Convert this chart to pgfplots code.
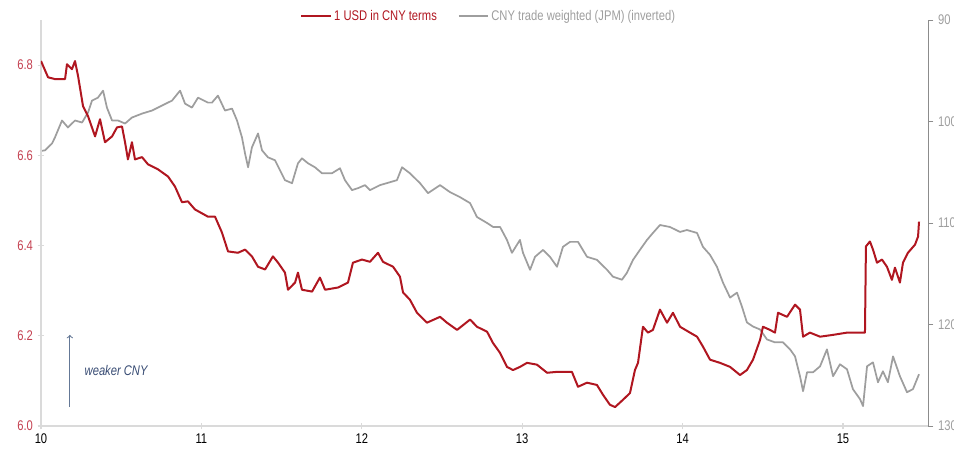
\documentclass[border=0pt]{standalone}
\usepackage{fontspec}
\setmainfont{Liberation Sans}[FakeStretch=0.8]
\usepackage{pgfplots}
\pgfplotsset{compat=1.18}

\definecolor{usdred}{RGB}{176,22,32}
\definecolor{tickred}{RGB}{196,64,80}
\definecolor{twgray}{RGB}{158,158,158}
\definecolor{axgray}{RGB}{218,218,218}
\definecolor{raxis}{RGB}{140,140,140}
\definecolor{arrowblue}{RGB}{100,120,150}
\definecolor{textblue}{RGB}{55,75,115}

\begin{document}
\begin{tikzpicture}
\pgfplotsset{
  every axis/.append style={
    scale only axis,
    width=665.25pt, height=304.5pt,
    xmin=10, xmax=15.53,
    font=\fontsize{10.5}{12}\selectfont,
    /pgf/number format/assume math mode=true,
  },
}

% trade weighted index, right axis (inverted)
\begin{axis}[
  axis x line=none,
  axis y line*=right,
  y dir=reverse,
  ymin=90, ymax=130,
  ytick={90,100,110,120,130},
  axis line style={raxis, line width=0.6pt, -},
  tick style={raxis, line width=0.6pt},
  tick align=outside, major tick length=4pt,
  yticklabel style={twgray},
]
\addplot[twgray, line width=1.3pt, line join=round] coordinates {
  (10.000,102.9) (10.025,102.84) (10.069,102.16) (10.087,101.57) (10.131,99.90)
  (10.168,100.59) (10.212,99.90) (10.256,100.10) (10.293,99.12) (10.318,97.94)
  (10.355,97.65) (10.387,96.96) (10.411,98.63) (10.443,99.90) (10.480,99.90)
  (10.524,100.20) (10.567,99.61) (10.630,99.22) (10.692,98.92) (10.754,98.43)
  (10.817,97.94) (10.867,96.96) (10.898,98.24) (10.941,98.63) (10.979,97.65)
  (11.041,98.14) (11.066,98.14) (11.103,97.45) (11.147,98.92) (11.191,98.73)
  (11.222,99.90) (11.253,101.57) (11.272,103.14) (11.291,104.51) (11.315,102.55)
  (11.353,101.18) (11.378,102.84) (11.415,103.53) (11.459,103.82) (11.490,104.80)
  (11.521,105.78) (11.565,106.08) (11.602,104.12) (11.627,103.63) (11.665,104.12)
  (11.708,104.51) (11.752,105.10) (11.814,105.10) (11.864,104.61) (11.895,105.78)
  (11.939,106.76) (11.976,106.57) (12.020,106.27) (12.051,106.76) (12.113,106.27)
  (12.176,105.98) (12.219,105.78) (12.251,104.51) (12.300,105.10) (12.363,106.08)
  (12.413,107.06) (12.488,106.27) (12.550,106.96) (12.612,107.45) (12.675,108.04)
  (12.718,109.41) (12.781,110.00) (12.818,110.39) (12.862,110.39) (12.905,111.67)
  (12.936,112.94) (12.986,111.67) (13.005,112.94) (13.049,114.61) (13.080,113.33)
  (13.130,112.65) (13.173,113.33) (13.217,114.31) (13.254,112.35) (13.298,111.86)
  (13.348,111.86) (13.404,113.33) (13.466,113.63) (13.529,114.61) (13.566,115.29)
  (13.622,115.59) (13.653,114.90) (13.691,113.63) (13.734,112.65) (13.778,111.67)
  (13.815,110.98) (13.859,110.20) (13.921,110.39) (13.984,110.88) (14.027,110.69)
  (14.090,110.98) (14.127,112.35) (14.171,113.14) (14.214,114.31) (14.252,115.88)
  (14.296,117.35) (14.339,116.86) (14.370,118.24) (14.401,119.80) (14.439,120.20)
  (14.483,120.49) (14.526,121.47) (14.576,121.76) (14.626,121.76) (14.670,122.45)
  (14.701,123.14) (14.732,125.10) (14.751,126.57) (14.776,124.71) (14.813,124.71)
  (14.857,124.12) (14.900,122.45) (14.938,125.10) (14.981,123.92) (15.025,124.41)
  (15.062,126.37) (15.106,127.35) (15.125,128.04) (15.150,124.12) (15.187,123.73)
  (15.218,125.69) (15.249,124.61) (15.280,125.69) (15.312,123.14) (15.355,125.10)
  (15.399,126.67) (15.436,126.37) (15.474,124.90)
};
\end{axis}

% USD/CNY, left axis
\begin{axis}[
  axis x line*=bottom,
  axis y line*=left,
  ymin=6.0, ymax=6.9,
  ytick={6.0,6.2,6.4,6.6,6.8},
  xtick={10,11,12,13,14,15},
  yticklabel style={tickred, /pgf/number format/fixed,
    /pgf/number format/fixed zerofill, /pgf/number format/precision=1},
  axis line style={axgray, line width=0.8pt, -},
  tick style={axgray, line width=0.8pt},
  major tick length=5pt, tick align=center,
  legend columns=2,
  legend style={draw=none, fill=none, at={(0.505,1.01)}, anchor=center,
    font=\fontsize{10.5}{12}\selectfont,
    /tikz/every even column/.append style={column sep=14pt}},
  legend image code/.code={\draw[#1] (0pt,0pt) -- (22pt,0pt);},
]
\addplot[usdred, line width=1.5pt, line join=round] coordinates {
  (10.000,6.809) (10.044,6.773) (10.087,6.769) (10.150,6.769) (10.162,6.802)
  (10.193,6.791) (10.212,6.809) (10.231,6.776) (10.262,6.709) (10.293,6.687)
  (10.337,6.642) (10.368,6.680) (10.399,6.629) (10.443,6.642) (10.474,6.662)
  (10.505,6.664) (10.524,6.629) (10.542,6.591) (10.567,6.629) (10.586,6.591)
  (10.630,6.596) (10.667,6.580) (10.729,6.569) (10.792,6.553) (10.835,6.531)
  (10.879,6.496) (10.916,6.498) (10.960,6.480) (11.041,6.464) (11.085,6.464)
  (11.128,6.429) (11.166,6.387) (11.228,6.384) (11.272,6.391) (11.315,6.376)
  (11.353,6.353) (11.397,6.347) (11.446,6.376) (11.478,6.362) (11.521,6.340)
  (11.540,6.302) (11.584,6.318) (11.602,6.340) (11.627,6.302) (11.690,6.298)
  (11.739,6.329) (11.771,6.302) (11.852,6.307) (11.914,6.318) (11.945,6.362)
  (12.001,6.369) (12.051,6.364) (12.101,6.384) (12.132,6.364) (12.195,6.353)
  (12.238,6.331) (12.257,6.296) (12.300,6.280) (12.344,6.251) (12.406,6.229)
  (12.488,6.242) (12.531,6.229) (12.594,6.213) (12.675,6.236) (12.718,6.220)
  (12.781,6.209) (12.818,6.184) (12.862,6.162) (12.905,6.131) (12.943,6.124)
  (12.986,6.131) (13.030,6.140) (13.092,6.136) (13.155,6.118) (13.217,6.120)
  (13.310,6.120) (13.348,6.087) (13.404,6.096) (13.466,6.091) (13.504,6.069)
  (13.547,6.047) (13.579,6.042) (13.628,6.058) (13.672,6.073) (13.703,6.124)
  (13.722,6.140) (13.753,6.220) (13.784,6.207) (13.815,6.213) (13.859,6.258)
  (13.903,6.229) (13.940,6.251) (13.984,6.220) (14.046,6.207) (14.090,6.198)
  (14.127,6.176) (14.171,6.147) (14.233,6.140) (14.296,6.131) (14.358,6.113)
  (14.401,6.124) (14.439,6.147) (14.483,6.191) (14.501,6.220) (14.545,6.213)
  (14.576,6.207) (14.595,6.251) (14.651,6.242) (14.701,6.269) (14.732,6.258)
  (14.751,6.198) (14.794,6.207) (14.857,6.198) (14.938,6.202) (15.025,6.207)
  (15.137,6.207) (15.143,6.398) (15.168,6.409) (15.187,6.391) (15.212,6.362)
  (15.243,6.369) (15.274,6.353) (15.305,6.324) (15.324,6.351) (15.355,6.318)
  (15.374,6.362) (15.405,6.384) (15.449,6.402) (15.468,6.420) (15.474,6.453)
};
\addlegendentry{\textcolor{usdred}{1 USD in CNY terms}}
\addlegendimage{twgray, line width=0.9pt}
\addlegendentry{\textcolor{twgray}{CNY trade weighted (JPM) (inverted)}}

\draw[arrowblue, line width=0.8pt, ->] (axis cs:10.18,6.042) -- (axis cs:10.18,6.202);
\node[anchor=west, textblue, font=\fontsize{10.5}{12}\selectfont\itshape]
  at (axis cs:10.243,6.124) {weaker CNY};
\end{axis}

\pgfresetboundingbox
\useasboundingbox (-30.75pt,-20.25pt) rectangle (684.75pt,319.5pt);
\end{tikzpicture}
\end{document}
